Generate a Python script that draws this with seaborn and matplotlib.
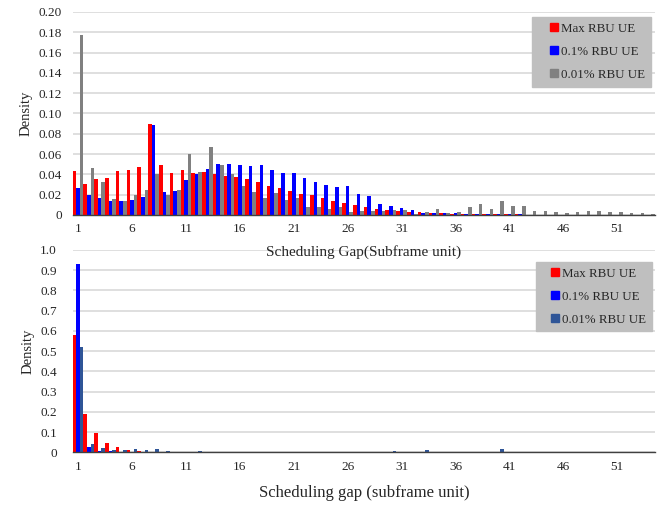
import matplotlib
matplotlib.use("Agg")
import matplotlib.pyplot as plt
from matplotlib.lines import Line2D
import pandas as pd
import seaborn as sns

# --- data ---
gaps = list(range(1, 55))
series_names = ["Max RBU UE", "0.1% RBU UE", "0.01% RBU UE"]

top_max = [0.043, 0.031, 0.035, 0.036, 0.043, 0.044, 0.047, 0.090, 0.049, 0.041,
           0.044, 0.041, 0.042, 0.040, 0.038, 0.037, 0.035, 0.032, 0.029, 0.027,
           0.024, 0.021, 0.020, 0.017, 0.014, 0.012, 0.010, 0.0077, 0.006, 0.0047,
           0.0043, 0.0033, 0.0027, 0.002, 0.0017, 0.0013, 0.0013, 0.0007, 0.0006, 0.0005,
           0.0005, 0.0005, 0.0004, 0.0004, 0.0004, 0.0003, 0.0003, 0.0003, 0.0003, 0.0003,
           0.0003, 0.0002, 0.0002, 0.0002]
top_01 = [0.027, 0.020, 0.017, 0.014, 0.014, 0.015, 0.018, 0.089, 0.023, 0.024,
          0.034, 0.040, 0.045, 0.050, 0.050, 0.049, 0.048, 0.049, 0.044, 0.041,
          0.041, 0.036, 0.032, 0.030, 0.028, 0.0285, 0.021, 0.019, 0.011, 0.009,
          0.0067, 0.0047, 0.002, 0.002, 0.002, 0.002, 0.001, 0.0007, 0.0006, 0.0005,
          0.0005, 0.0005, 0.0004, 0.0004, 0.0004, 0.0003, 0.0003, 0.0003, 0.0003, 0.0003,
          0.0003, 0.0002, 0.0002, 0.0002]
top_001 = [0.177, 0.046, 0.032, 0.016, 0.014, 0.020, 0.025, 0.040, 0.020, 0.025,
           0.060, 0.042, 0.067, 0.049, 0.040, 0.029, 0.023, 0.017, 0.022, 0.015,
           0.017, 0.0075, 0.0075, 0.006, 0.0075, 0.003, 0.0043, 0.004, 0.0043, 0.0047,
           0.005, 0.001, 0.003, 0.006, 0.0017, 0.003, 0.008, 0.011, 0.006, 0.014,
           0.009, 0.009, 0.0043, 0.0043, 0.0025, 0.0015, 0.0027, 0.0043, 0.0043, 0.0027,
           0.0027, 0.0015, 0.0015, 0.0007]

bot_max = [0.579, 0.190, 0.097, 0.049, 0.025, 0.011, 0.007, 0.003, 0.002, 0.001,
           0.001, 0.001, 0.001, 0.001, 0.001, 0.001, 0.001, 0.001, 0.001, 0.001,
           0.0005, 0.0005, 0.0005, 0.0005, 0.0005, 0.0005, 0.0005, 0.0005, 0.0005, 0.0005,
           0.0005, 0.0005, 0.0005, 0.0005, 0.0005, 0.0005, 0.0005, 0.0005, 0.0005, 0.0005,
           0.0005, 0.0005, 0.0005, 0.0005, 0.0005, 0.0005, 0.0005, 0.0005, 0.0005, 0.0005,
           0.0005, 0.0005, 0.0005, 0.0005]
bot_01 = [0.931, 0.028, 0.005, 0.005, 0.003, 0.002, 0.002, 0.001, 0.001, 0.001,
          0.0005, 0.0005, 0.0005, 0.0005, 0.0005, 0.0005, 0.0005, 0.0005, 0.0005, 0.0005,
          0.0005, 0.0005, 0.0005, 0.0005, 0.0005, 0.0005, 0.0005, 0.0005, 0.0005, 0.0005,
          0.0005, 0.0005, 0.0005, 0.0005, 0.0005, 0.0005, 0.0005, 0.0005, 0.0005, 0.0005,
          0.0005, 0.0005, 0.0005, 0.0005, 0.0005, 0.0005, 0.0005, 0.0005, 0.0005, 0.0005,
          0.0005, 0.0005, 0.0005, 0.0005]
bot_001 = [0.523, 0.043, 0.021, 0.013, 0.010, 0.015, 0.010, 0.016, 0.005, 0.004,
           0.004, 0.006, 0.003, 0.003, 0.003, 0.003, 0.003, 0.003, 0.003, 0.003,
           0.003, 0.003, 0.003, 0.003, 0.003, 0.003, 0.003, 0.003, 0.003, 0.008,
           0.003, 0.003, 0.011, 0.004, 0.003, 0.003, 0.003, 0.003, 0.003, 0.018,
           0.002, 0.003, 0.003, 0.001, 0.003, 0.003, 0.001, 0.001, 0.001, 0.003,
           0.001, 0.001, 0.001, 0.001]

top_colors = ["#FF0000", "#0000FF", "#808080"]
bot_colors = ["#FF0000", "#0000FF", "#2F5597"]
tick_labels = [str(g) for g in gaps[::5]]

sns.set_style("white")
plt.rcParams["font.family"] = ["Liberation Serif", "DejaVu Serif"]


def long_frame(a, b, c):
    return pd.DataFrame({
        "gap": gaps * 3,
        "density": a + b + c,
        "series": [series_names[0]] * len(gaps) + [series_names[1]] * len(gaps)
                  + [series_names[2]] * len(gaps),
    })


def draw_panel(ax, df, colors, ymax, yticks, ylabels, xlabel, xlabel_size, xpad, ypad,
               legend_anchor, handle_len):
    sns.barplot(data=df, x="gap", y="density", hue="series", hue_order=series_names,
                palette=colors, width=1.0, linewidth=0, saturation=1, legend=False, ax=ax)
    ax.set_xlim(-0.5, len(gaps) - 0.5)
    ax.set_ylim(0, ymax)
    ax.set_yticks(yticks)
    ax.set_yticklabels(ylabels)
    ax.set_xticks(range(0, len(gaps), 5))
    ax.set_xticklabels(tick_labels)
    ax.tick_params(axis="x", length=0, pad=6, labelsize=9.5, colors="#262626")
    ax.tick_params(axis="y", length=0, pad=ypad, labelsize=9.5, colors="#262626")
    ax.yaxis.grid(True, color="#D9D9D9", linewidth=1.2)
    ax.set_axisbelow(True)
    for side in ["left", "top", "right"]:
        ax.spines[side].set_visible(False)
    ax.spines["bottom"].set_color("#404040")
    ax.spines["bottom"].set_linewidth(1.0)
    ax.set_xlabel(xlabel, fontsize=xlabel_size, labelpad=xpad, color="#262626")
    ax.set_ylabel("Density", fontsize=10.5, color="#262626")
    # legend squares like the spreadsheet legend (square centred in a wide handle box)
    handles = [Line2D([], [], linestyle="none", marker="s", markersize=6,
                      markerfacecolor=c, markeredgecolor=c) for c in colors]
    leg = ax.legend(handles, series_names, loc="upper right", bbox_to_anchor=legend_anchor,
                    borderaxespad=0, frameon=True, fancybox=False, framealpha=1,
                    facecolor="#BFBFBF", edgecolor="#BFBFBF", fontsize=9.3,
                    handlelength=handle_len, handletextpad=-handle_len / 2 + 0.57,
                    labelspacing=0.85, borderpad=0.45)
    for t in leg.get_texts():
        t.set_color("#262626")


fig = plt.figure(figsize=(6.65, 5.05), dpi=100)
ax_top = fig.add_axes([0.1093, 0.5743, 0.8756, 0.402])
ax_bot = fig.add_axes([0.1093, 0.104, 0.8756, 0.401])
ax_top.set_zorder(3)
ax_top.patch.set_alpha(0)

draw_panel(ax_top, long_frame(top_max, top_01, top_001), top_colors, 0.20,
           [i * 0.02 for i in range(11)],
           ["0"] + [f"{i * 0.02:.2f}" for i in range(1, 11)],
           "Scheduling Gap(Subframe unit)", 11, 7, 7.7, (0.993, 0.975), 2.4)
draw_panel(ax_bot, long_frame(bot_max, bot_01, bot_001), bot_colors, 1.0,
           [i * 0.1 for i in range(11)],
           ["0"] + [f"{i * 0.1:.1f}" for i in range(1, 11)],
           "Scheduling gap (subframe unit)", 12, 9, 11.3, (0.995, 0.942), 2.0)

fig.savefig("out.png", dpi=100)
